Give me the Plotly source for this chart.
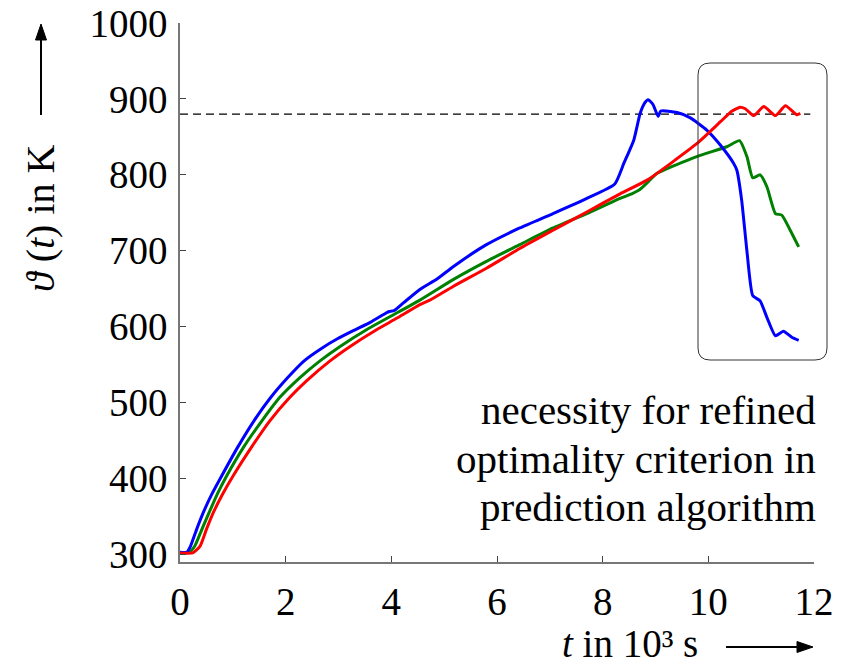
import plotly.graph_objects as go

# ---- data (t in 10^3 s, theta in K) ----
t_blue = [0, 0.13, 0.20, 0.32, 0.44, 0.60, 0.77, 1.09, 1.40, 1.72, 2.04, 2.35, 2.67, 2.98, 3.29, 3.61,
          3.90, 3.96, 4.05, 4.24, 4.54, 4.87, 5.17, 5.80, 6.43, 7.06, 7.70, 8.23, 8.40, 8.59, 8.71,
          8.80, 8.86, 8.95, 9.05, 9.10, 9.41, 9.66, 9.97, 10.23, 10.48, 10.54, 10.63, 10.73, 10.84,
          10.98, 11.11, 11.27, 11.42, 11.58, 11.71]
y_blue = [303, 303, 311, 334, 355, 379, 401, 441, 476, 507, 533, 555, 571, 584, 595, 606,
          618, 620, 621, 632, 649, 663, 679, 708, 730, 749, 769, 788, 815, 846, 881,
          895, 899, 893, 877, 884, 882, 875, 859, 839, 815, 806, 767, 700, 641,
          634, 612, 588, 594, 586, 582]

t_green = [0, 0.18, 0.28, 0.42, 0.55, 0.71, 0.88, 1.21, 1.55, 1.89, 2.27, 2.65, 3.03, 3.53, 3.97,
           4.54, 5.17, 5.80, 6.43, 7.06, 7.70, 8.33, 8.55, 8.71, 8.85, 9.03, 9.78, 10.35, 10.59,
           10.73, 10.84, 10.98, 11.11, 11.27, 11.39, 11.55, 11.71]
y_green = [302, 303, 311, 334, 355, 380, 403, 442, 476, 507, 533, 555, 574, 596, 613,
           635, 662, 686, 708, 730, 749, 769, 775, 781, 790, 802, 824, 837, 845,
           824, 796, 800, 784, 749, 747, 727, 705]

t_red = [0, 0.24, 0.38, 0.50, 0.63, 0.81, 1.01, 1.36, 1.70, 2.08, 2.40, 2.84, 3.22, 3.72, 4.10,
         4.54, 4.73, 5.17, 5.80, 6.43, 7.06, 7.70, 8.33, 8.84, 9.78, 10.23, 10.45, 10.60, 10.70,
         10.86, 11.05, 11.27, 11.46, 11.68, 11.74]
y_red = [302, 302, 311, 333, 355, 380, 404, 442, 476, 507, 529, 555, 574, 596, 611,
         629, 635, 653, 677, 703, 727, 751, 775, 793, 841, 870, 884, 889, 887,
         878, 890, 878, 891, 879, 881]

threshold = 880
x_ticks = [0, 2, 4, 6, 8, 10, 12]
y_ticks = [300, 400, 500, 600, 700, 800, 900, 1000]
note_lines = ["necessity for refined", "optimality criterion in", "prediction algorithm"]

FONT = "Liberation Serif"

# plot-area geometry in pixels (for paper-coordinate decorations)
L, R, T, B = 180, 814, 23, 562
def px(x):
    return (x - L) / (R - L)
def py(y):
    return (B - y) / (B - T)

fig = go.Figure()
for tx, ty, col in [(t_green, y_green, "#008000"), (t_blue, y_blue, "#0000ff"), (t_red, y_red, "#ff0000")]:
    fig.add_trace(go.Scatter(x=tx, y=ty, mode="lines",
                             line=dict(color=col, width=3, shape="spline", smoothing=0.5)))

# threshold dashed line
fig.add_shape(type="line", xref="x", yref="y", x0=0, x1=11.93, y0=threshold, y1=threshold,
              line=dict(color="black", width=1.2, dash="8px,5px"), layer="below")

# rounded box (paper coordinates)
x0, x1, y0, y1 = px(698), px(827), py(360), py(63)
rx, ry = 12 / (R - L), 12 / (B - T)
path = (f"M {x0+rx},{y0} L {x1-rx},{y0} Q {x1},{y0} {x1},{y0+ry} "
        f"L {x1},{y1-ry} Q {x1},{y1} {x1-rx},{y1} "
        f"L {x0+rx},{y1} Q {x0},{y1} {x0},{y1-ry} "
        f"L {x0},{y0+ry} Q {x0},{y0} {x0+rx},{y0} Z")
fig.add_shape(type="path", xref="paper", yref="paper", path=path,
              line=dict(color="#333333", width=1))

# axis arrows (shapes)
fig.add_shape(type="line", xref="paper", yref="paper", x0=px(41), x1=px(41), y0=py(115), y1=py(36),
              line=dict(color="black", width=2))
fig.add_shape(type="path", xref="paper", yref="paper",
              path=f"M {px(41)},{py(24)} L {px(35.5)},{py(40)} L {px(46.5)},{py(40)} Z",
              fillcolor="black", line=dict(color="black", width=1))
fig.add_shape(type="line", xref="paper", yref="paper", x0=px(726), x1=px(800), y0=py(647), y1=py(647),
              line=dict(color="black", width=2))
fig.add_shape(type="path", xref="paper", yref="paper",
              path=f"M {px(813)},{py(647)} L {px(797)},{py(641.5)} L {px(797)},{py(652.5)} Z",
              fillcolor="black", line=dict(color="black", width=1))

annos = []
for line_text, yc in zip(note_lines, [410, 459, 507]):
    annos.append(dict(xref="paper", yref="paper", x=px(818), y=py(yc), xanchor="right",
                      yanchor="middle", showarrow=False, text=line_text,
                      font=dict(family=FONT, size=41, color="black")))
annos += [
    dict(xref="paper", yref="paper", x=px(40), y=py(218), xanchor="center", yanchor="middle",
         textangle=-90, showarrow=False,
         text="<i>ϑ</i> (<i>t</i>) in K",
         font=dict(family=FONT, size=40, color="black")),
    dict(xref="paper", yref="paper", x=px(630), y=py(643), xanchor="center", yanchor="middle",
         showarrow=False, text="<i>t</i> in 10³ s",
         font=dict(family=FONT, size=39, color="black")),
]

fig.update_layout(
    width=843, height=666,
    margin=dict(l=L, r=843 - R, t=T, b=666 - B, autoexpand=False),
    paper_bgcolor="white", plot_bgcolor="white",
    showlegend=False,
    annotations=annos,
    font=dict(family=FONT, size=38, color="black"),
    xaxis=dict(range=[0, 12], tickvals=x_ticks, ticks="inside", ticklen=6, tickcolor="#444",
               showline=True, linecolor="#777", linewidth=1.5, showgrid=False, zeroline=False,
               automargin=False,
               tickfont=dict(family=FONT, size=39, color="black"), ticklabelstandoff=4),
    yaxis=dict(range=[290, 1000], tickvals=y_ticks, ticks="inside", ticklen=6, tickcolor="#444",
               showline=True, linecolor="#777", linewidth=1.5, showgrid=False, zeroline=False,
               automargin=False,
               tickfont=dict(family=FONT, size=39, color="black"), ticklabelstandoff=3),
)

fig.write_html("out.html", config={"displayModeBar": False},
               post_script="document.body.style.margin='0px';")
